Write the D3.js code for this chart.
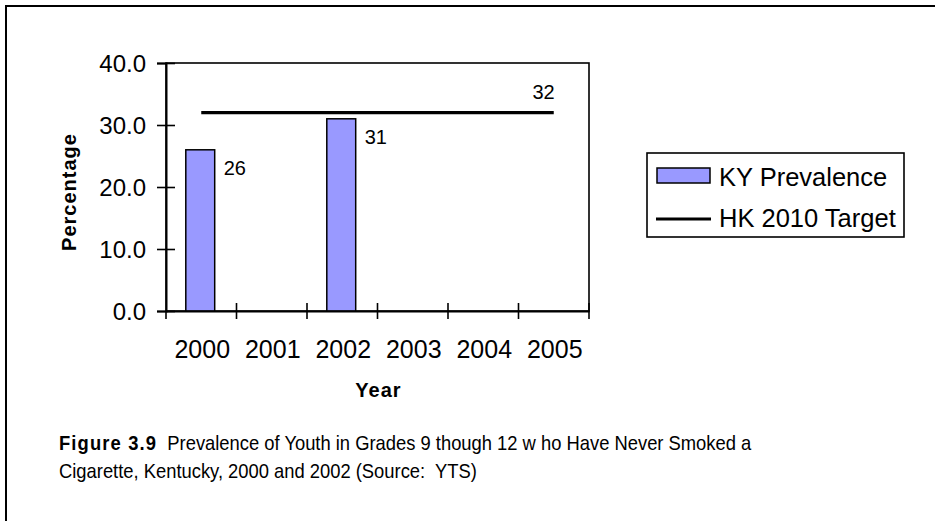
<!DOCTYPE html>
<html>
<head>
<meta charset="utf-8">
<script src="https://cdn.jsdelivr.net/npm/d3@7/dist/d3.min.js"></script>
<style>
  html, body { margin: 0; padding: 0; background: #fff; }
  svg { display: block; font-family: "Liberation Sans", Arial, sans-serif; }
  text { white-space: pre; }
</style>
</head>
<body>
<svg id="chart" width="935" height="521"></svg>
<script>
// ---- data ----
const years = ["2000", "2001", "2002", "2003", "2004", "2005"];
const prevalence = [26, null, 31, null, null, null];
const target = [32, 32, 32, 32, 32, 32];
const yTicks = [0, 10, 20, 30, 40];
const seriesNames = ["KY Prevalence", "HK 2010 Target"];
const captionBold = "Figure 3.9";
const captionLine1 = "  Prevalence of Youth in Grades 9 though 12 w ho Have Never Smoked a";
const captionLine2 = "Cigarette, Kentucky, 2000 and 2002 (Source:  YTS)";

(function () {
const svg = d3.select("#chart");

// outer frame
svg.append("rect").attr("x", 6).attr("y", 6).attr("width", 1000).attr("height", 1000)
  .attr("fill", "none").attr("stroke", "#000").attr("stroke-width", 2);

const pL = 166, pR = 589, pT = 63, pB = 311;
const x = d3.scaleBand().domain(years).range([pL, pR]).paddingInner(0).paddingOuter(0);
const y = d3.scaleLinear().domain([0, 40]).range([pB, pT]);

// plot area border
svg.append("rect").attr("x", pL).attr("y", pT).attr("width", pR - pL).attr("height", pB - pT)
  .attr("fill", "#fff").attr("stroke", "#000").attr("stroke-width", 1.6);

// bars
const barW = x.bandwidth() * 0.41;
const barData = years.map((yr, i) => ({ yr, v: prevalence[i] })).filter(d => d.v != null);
svg.append("g").selectAll("rect").data(barData).join("rect")
  .attr("x", d => x(d.yr) + x.bandwidth() / 2 - barW / 2 - 1)
  .attr("y", d => y(d.v))
  .attr("width", barW)
  .attr("height", d => y(0) - y(d.v))
  .attr("fill", "#9999FF").attr("stroke", "#000").attr("stroke-width", 1.5);

// bar labels
svg.append("g").selectAll("text").data(barData).join("text")
  .attr("x", d => x(d.yr) + x.bandwidth() / 2 + barW / 2 + 8)
  .attr("y", d => y(d.v) + 25)
  .attr("font-size", 20).attr("fill", "#000")
  .text(d => d.v);

// target line
const line = d3.line().x((d, i) => x(years[i]) + x.bandwidth() / 2).y(d => y(d));
svg.append("path").datum(target).attr("d", line)
  .attr("fill", "none").attr("stroke", "#000").attr("stroke-width", 3.2);
svg.append("text")
  .attr("x", x(years[years.length - 1]) + x.bandwidth() / 2 + 1)
  .attr("y", y(target[target.length - 1]) - 14)
  .attr("text-anchor", "end").attr("font-size", 20)
  .text(target[target.length - 1]);

// y axis
const yAxis = svg.append("g").attr("transform", `translate(${pL},0)`)
  .call(d3.axisLeft(y).tickValues(yTicks).tickFormat(d3.format(".1f")).tickSize(9).tickPadding(11));
yAxis.select(".domain").attr("stroke", "#000").attr("stroke-width", 2);
yAxis.selectAll(".tick line").attr("x1", 9).attr("stroke-width", 1.6);
yAxis.selectAll(".tick text").attr("font-size", 24).attr("font-family", "Liberation Sans, Arial, sans-serif")
  .attr("fill", "#000").attr("dy", "0.35em");

// x axis
const xAxis = svg.append("g").attr("transform", `translate(0,${pB})`)
  .call(d3.axisBottom(x).tickSize(0).tickPadding(29));
xAxis.select(".domain").attr("stroke", "#000").attr("stroke-width", 2);
xAxis.selectAll(".tick text").attr("font-size", 25).attr("font-family", "Liberation Sans, Arial, sans-serif")
  .attr("fill", "#000").attr("dy", "0.71em").attr("dx", 1);
const boundaries = years.map(yr => x(yr)).concat([x.range()[1]]);
svg.append("g").selectAll("line").data(boundaries).join("line")
  .attr("x1", d => d).attr("x2", d => d)
  .attr("y1", (d, i) => i === 0 ? pB : pB - 8).attr("y2", pB + 8)
  .attr("stroke", "#000").attr("stroke-width", 1.6);

// axis titles
svg.append("text").attr("transform", `translate(76,${(pT + pB) / 2 + 5}) rotate(-90)`)
  .attr("text-anchor", "middle").attr("font-size", 20).attr("font-weight", "bold")
  .attr("letter-spacing", 1).text("Percentage");
svg.append("text").attr("x", (pL + pR) / 2 + 1).attr("y", 397)
  .attr("text-anchor", "middle").attr("font-size", 20).attr("font-weight", "bold")
  .attr("letter-spacing", 1).text("Year");

// legend
const lg = svg.append("g");
lg.append("rect").attr("x", 647).attr("y", 153).attr("width", 257).attr("height", 84)
  .attr("fill", "#fff").attr("stroke", "#000").attr("stroke-width", 1.6);
lg.append("rect").attr("x", 657).attr("y", 168).attr("width", 53).attr("height", 15)
  .attr("fill", "#9999FF").attr("stroke", "#000").attr("stroke-width", 1.5);
lg.append("line").attr("x1", 656).attr("x2", 711).attr("y1", 219).attr("y2", 219)
  .attr("stroke", "#000").attr("stroke-width", 3.2);
lg.selectAll("text").data(seriesNames).join("text")
  .attr("x", 719).attr("y", (d, i) => 186 + i * 41)
  .attr("font-size", 25.5).text(d => d);

// caption (horizontally condensed like the original)
const cap = svg.append("text").attr("transform", "translate(59,450) scale(0.875,1)").attr("font-size", 21);
cap.append("tspan").attr("font-weight", "bold").attr("letter-spacing", 1.3).text(captionBold);
cap.append("tspan").text(captionLine1);
svg.append("text").attr("transform", "translate(59,478) scale(0.875,1)").attr("font-size", 21).text(captionLine2);
})();
</script>
</body>
</html>
